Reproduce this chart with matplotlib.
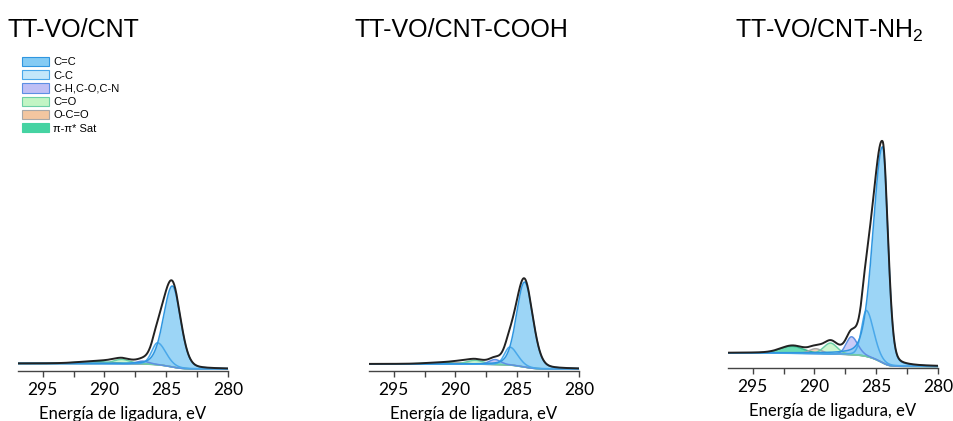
import numpy as np
import matplotlib
matplotlib.use('Agg')
import matplotlib.pyplot as plt
from matplotlib.patches import Patch
from matplotlib.ticker import MultipleLocator

plt.rcParams['mathtext.fontset'] = 'custom'
plt.rcParams['mathtext.rm'] = 'Liberation Sans'
plt.rcParams['mathtext.it'] = 'Liberation Sans:italic'

# componentes del ajuste C1s
componentes = ['C=C', 'C-C', 'C-H,C-O,C-N', 'C=O', 'O-C=O', 'π-π* Sat']
relleno = ['#84cbf4', '#c3e7fa', '#bfbff5', '#c2f5c4', '#f3c6a0', '#45d3a2']
borde = ['#2f96e0', '#4aa8ea', '#5d8fe4', '#6ccfa6', '#a8a8a8', '#36b98f']

muestras = ['TT-VO/CNT', 'TT-VO/CNT-COOH', 'TT-VO/CNT-NH$_2$']

# posiciones (eV), alturas sobre el fondo y semianchos (lado alta / baja energía)
cnt_centro = [284.5, 285.7, 286.9, 288.6, 289.8, 290.8]
cnt_altura = [81, 22, 3, 4.5, 0.8, 2]
cnt_ancho_alto = [0.85, 0.55, 0.6, 0.8, 0.8, 1.6]
cnt_ancho_bajo = [0.78, 0.80, 0.6, 0.8, 0.8, 1.6]
cnt_fondo = [7.5, 2.0]

cooh_centro = [284.4, 285.6, 286.8, 288.4, 289.6, 290.8]
cooh_altura = [85, 18, 5, 4, 1.5, 1.5]
cooh_ancho_alto = [0.78, 0.50, 0.55, 0.8, 0.8, 1.6]
cooh_ancho_bajo = [0.78, 0.75, 0.55, 0.8, 0.8, 1.6]
cooh_fondo = [7.0, 2.0]

nh2_centro = [284.48, 285.8, 287.0, 288.7, 289.9, 291.8]
nh2_altura = [216, 46, 18, 11, 5, 7]
nh2_ancho_alto = [0.90, 0.45, 0.5, 0.65, 0.6, 1.1]
nh2_ancho_bajo = [0.50, 0.70, 0.6, 0.65, 0.6, 1.1]
nh2_fondo = [15.0, 1.5]

datos = [
    (cnt_centro, cnt_altura, cnt_ancho_alto, cnt_ancho_bajo, cnt_fondo),
    (cooh_centro, cooh_altura, cooh_ancho_alto, cooh_ancho_bajo, cooh_fondo),
    (nh2_centro, nh2_altura, nh2_ancho_alto, nh2_ancho_bajo, nh2_fondo),
]


def pico(x, c, h, w_alto, w_bajo, eta=0.2):
    w = np.where(x > c, w_alto, w_bajo)
    u = (x - c) / w
    return h * ((1 - eta) * np.exp(-np.log(2) * u ** 2) + eta / (1 + u ** 2))


fig = plt.figure(figsize=(9.54, 4.21), dpi=100)
W, H = 954, 421

# ejes: (izquierda px, línea del eje px)
cajas = [(18, 371), (369, 371), (728, 368)]
ancho_px, alto_px = 210, 240

be = np.linspace(280, 297, 1200)

for (x0, y0), (centro, altura, w_a, w_b, fondo) in zip(cajas, datos):
    ax = fig.add_axes([x0 / W, (H - y0) / H, ancho_px / W, alto_px / H])
    picos = [pico(be, c, h, wa, wb) for c, h, wa, wb in zip(centro, altura, w_a, w_b)]
    total = np.sum(picos, axis=0)
    # fondo tipo Shirley
    acum = np.concatenate([[0], np.cumsum((total[1:] + total[:-1]) / 2 * np.diff(be))])
    bg = fondo[1] + (fondo[0] - fondo[1]) * acum / acum[-1]

    for i in range(len(componentes) - 1, -1, -1):
        ax.fill_between(be, bg, bg + picos[i], color=relleno[i], alpha=0.8, lw=0)
    for i in range(len(componentes) - 1, -1, -1):
        ax.plot(be, bg + picos[i], color=borde[i], lw=1.1)
    ax.plot(be, bg + total, color='#222222', lw=1.4)

    ax.set_xlim(297, 280)
    ax.set_ylim(0, alto_px)
    for s in ['left', 'right', 'top']:
        ax.spines[s].set_visible(False)
    ax.spines['bottom'].set_color('#444444')
    ax.spines['bottom'].set_linewidth(1.0)
    ax.set_yticks([])
    ax.xaxis.set_major_locator(MultipleLocator(5))
    ax.xaxis.set_minor_locator(MultipleLocator(2.5))
    ax.tick_params(axis='x', which='both', direction='out', length=4, width=1,
                   color='#444444', labelsize=12.5, pad=4)
    for t in ax.get_xticklabels():
        t.set_fontfamily('Lato')
    ax.set_xlabel('Energía de ligadura, eV', fontsize=12, fontfamily='Lato', labelpad=6)
    ax.patch.set_alpha(0)

for texto, xpx in zip(muestras, [8, 355, 735]):
    fig.text(xpx / W, 1 - 30 / H, texto, fontsize=18, fontfamily='Liberation Sans',
             va='center', ha='left')

manejadores = [Patch(facecolor=f, edgecolor=(b if i < 5 else f), lw=0.8, label=c)
               for i, (c, f, b) in enumerate(zip(componentes, relleno, borde))]
fig.legend(handles=manejadores, loc='upper left', bbox_to_anchor=(22 / W, 1 - 57 / H),
           frameon=False, handlelength=2.4, handleheight=0.9,
           labelspacing=0.25, handletextpad=0.4, borderpad=0, borderaxespad=0,
           prop={'family': 'Liberation Sans', 'size': 8})

fig.savefig('out.png', dpi=100)
